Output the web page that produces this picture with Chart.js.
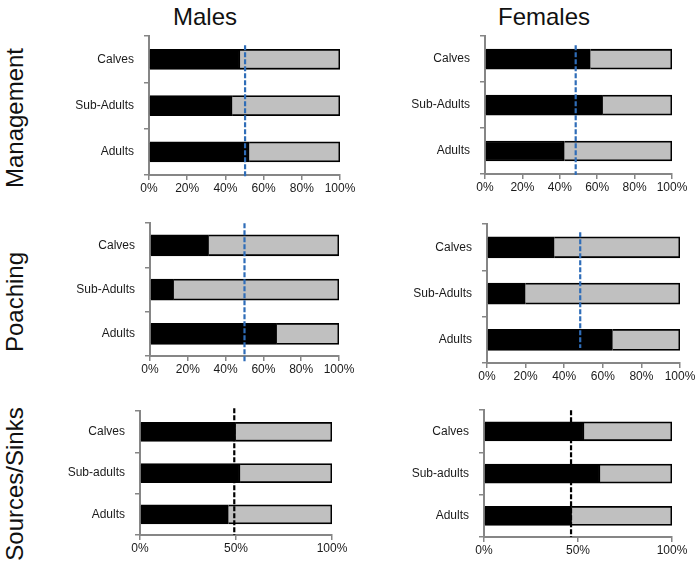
<!DOCTYPE html>
<html>
<head>
<meta charset="utf-8">
<script src="https://cdn.jsdelivr.net/npm/chart.js@4/dist/chart.umd.min.js"></script>
<style>
  html, body { margin: 0; padding: 0; background: #fff; }
  #wrap { position: relative; width: 699px; height: 564px; overflow: hidden; }
  canvas { position: absolute; }
  .title { position: absolute; font-family: "Liberation Sans", Arial, sans-serif; font-size: 24px; color: #111; text-align: center; white-space: nowrap; height: 30px; line-height: 30px; }
  .row { transform: rotate(-90deg); }
</style>
</head>
<body>
<div id="wrap"></div>
<script>
// categories
const ageClasses = ["Calves", "Sub-Adults", "Adults"];
const ageClassesSS = ["Calves", "Sub-adults", "Adults"];

// black share (%) and grey remainder (%), per panel, order Calves / Sub-Adults / Adults
const malesManagement = [47.6, 43.5, 52.4];
const malesManagementRest = [52.4, 56.5, 47.6];
const femalesManagement = [56.3, 62.9, 42.4];
const femalesManagementRest = [43.7, 37.1, 57.6];

const malesPoaching = [31, 12.5, 67];
const malesPoachingRest = [69, 87.5, 33];
const femalesPoaching = [34.8, 19.8, 65];
const femalesPoachingRest = [65.2, 80.2, 35];

const malesSources = [49.8, 52.1, 46];
const malesSourcesRest = [50.2, 47.9, 54];
const femalesSources = [53.2, 61.7, 46.6];
const femalesSourcesRest = [46.8, 38.3, 53.4];

// dashed reference lines (%)
const dashManagement = [50.3, 48.5];
const dashPoaching = [50, 48.3];
const dashSources = [49.1, 46.3];

// x tick steps
const tickStepFine = 20;
const tickStepCoarse = 50;

const wrap = document.getElementById("wrap");

function addText(txt, cx, cy, w, rotated) {
    const d = document.createElement("div");
    d.className = "title" + (rotated ? " row" : "");
    d.textContent = txt;
    d.style.width = w + "px";
    d.style.left = (cx - w / 2) + "px";
    d.style.top = (cy - 15) + "px";
    wrap.appendChild(d);
}

addText("Males", 205, 17, 120, false);
addText("Females", 544, 17, 140, false);
addText("Management", 15, 118, 180, true);
addText("Poaching", 15, 302, 140, true);
addText("Sources/Sinks", 15, 484, 190, true);

const dashLine = {
    id: "dashLine",
    afterDatasetsDraw(chart, args, opts) {
        const ctx = chart.ctx;
        const x = chart.scales.x.getPixelForValue(opts.value);
        ctx.save();
        ctx.strokeStyle = opts.color;
        ctx.lineWidth = opts.width;
        ctx.setLineDash(opts.dash);
        ctx.beginPath();
        ctx.moveTo(x, chart.chartArea.top + opts.top);
        ctx.lineTo(x, chart.chartArea.bottom + opts.bottom);
        ctx.stroke();
        ctx.restore();
    }
};

const Y_W = 110;
const X_H = 26;
const PAD_R = 24;

function config(p) {
    return {
        type: "bar",
        data: {
            labels: p.labels,
            datasets: [{
                data: p.black,
                backgroundColor: "#000000",
                borderColor: "#000000",
                borderWidth: 1.5,
                barThickness: p.thick
            }, {
                data: p.grey,
                backgroundColor: "#c0c0c0",
                borderColor: "#000000",
                borderWidth: 1.8,
                barThickness: p.thick
            }]
        },
        options: {
            indexAxis: "y",
            responsive: false,
            maintainAspectRatio: false,
            animation: false,
            devicePixelRatio: 1,
            layout: { padding: { top: 0, right: PAD_R, left: 0, bottom: 0 } },
            plugins: {
                legend: { display: false },
                tooltip: { enabled: false },
                dashLine: {
                    value: p.dash,
                    color: p.dashColor,
                    width: 2.2,
                    dash: p.dashPattern,
                    top: p.dashTop,
                    bottom: p.dashBottom
                }
            },
            scales: {
                x: {
                    stacked: true,
                    min: 0,
                    max: 100,
                    afterFit(s) { s.height = X_H; },
                    ticks: {
                        stepSize: p.step,
                        callback: v => v + "%",
                        color: "#1a1a1a",
                        padding: 1,
                        maxRotation: 0,
                        font: { family: "Liberation Sans, Arial, sans-serif", size: 12 }
                    },
                    grid: { drawOnChartArea: false, tickLength: 5, color: "#868686", lineWidth: 1.5 },
                    border: { color: "#868686", width: 2 }
                },
                y: {
                    stacked: true,
                    afterFit(s) { s.width = Y_W; },
                    ticks: {
                        color: "#1a1a1a",
                        padding: 10,
                        font: { family: "Liberation Sans, Arial, sans-serif", size: 12 }
                    },
                    grid: { offset: true, drawOnChartArea: false, tickLength: 5, color: "#868686", lineWidth: 1.5 },
                    border: { color: "#868686", width: 2 }
                }
            }
        },
        plugins: [dashLine]
    };
}

function makePanel(p) {
    const plotW = p.x1 - p.x0;
    const plotH = p.bottom - p.top;
    const cv = document.createElement("canvas");
    cv.width = Y_W + plotW + PAD_R;
    cv.height = plotH + X_H + 20;
    wrap.appendChild(cv);

    // first pass: see where the library puts the plot area, then size the canvas around it
    let chart = new Chart(cv, config(p));
    const a = chart.chartArea;
    const left = a.left, top = a.top;
    const rightGap = cv.width - a.right;
    const bottomGap = cv.height - a.bottom;
    chart.destroy();

    cv.width = left + plotW + rightGap;
    cv.height = top + plotH + bottomGap;
    cv.style.width = cv.width + "px";
    cv.style.height = cv.height + "px";
    cv.style.left = (p.x0 - left) + "px";
    cv.style.top = (p.top - top) + "px";
    new Chart(cv, config(p));
}

const blue = "#2f6db8";

makePanel({ x0: 149, x1: 340, top: 36, bottom: 175, labels: ageClasses, black: malesManagement, grey: malesManagementRest,
    thick: 20, step: tickStepFine, dash: dashManagement[0], dashColor: blue, dashPattern: [5, 2], dashTop: 9, dashBottom: 2 });
makePanel({ x0: 485, x1: 672, top: 36, bottom: 174, labels: ageClasses, black: femalesManagement, grey: femalesManagementRest,
    thick: 20, step: tickStepFine, dash: dashManagement[1], dashColor: blue, dashPattern: [5, 2], dashTop: 9, dashBottom: 1 });
makePanel({ x0: 150, x1: 339, top: 223, bottom: 356, labels: ageClasses, black: malesPoaching, grey: malesPoachingRest,
    thick: 21, step: tickStepFine, dash: dashPoaching[0], dashColor: blue, dashPattern: [5, 2], dashTop: 0, dashBottom: 7 });
makePanel({ x0: 487, x1: 680, top: 224, bottom: 363, labels: ageClasses, black: femalesPoaching, grey: femalesPoachingRest,
    thick: 21, step: tickStepFine, dash: dashPoaching[1], dashColor: blue, dashPattern: [5, 2], dashTop: 8, dashBottom: -15 });
makePanel({ x0: 140, x1: 332, top: 411, bottom: 535, labels: ageClassesSS, black: malesSources, grey: malesSourcesRest,
    thick: 19, step: tickStepCoarse, dash: dashSources[0], dashColor: "#000000", dashPattern: [5, 2], dashTop: -3, dashBottom: 0 });
makePanel({ x0: 484, x1: 672, top: 410, bottom: 537, labels: ageClassesSS, black: femalesSources, grey: femalesSourcesRest,
    thick: 19, step: tickStepCoarse, dash: dashSources[1], dashColor: "#000000", dashPattern: [5, 2], dashTop: 0, dashBottom: 0 });
</script>
</body>
</html>
